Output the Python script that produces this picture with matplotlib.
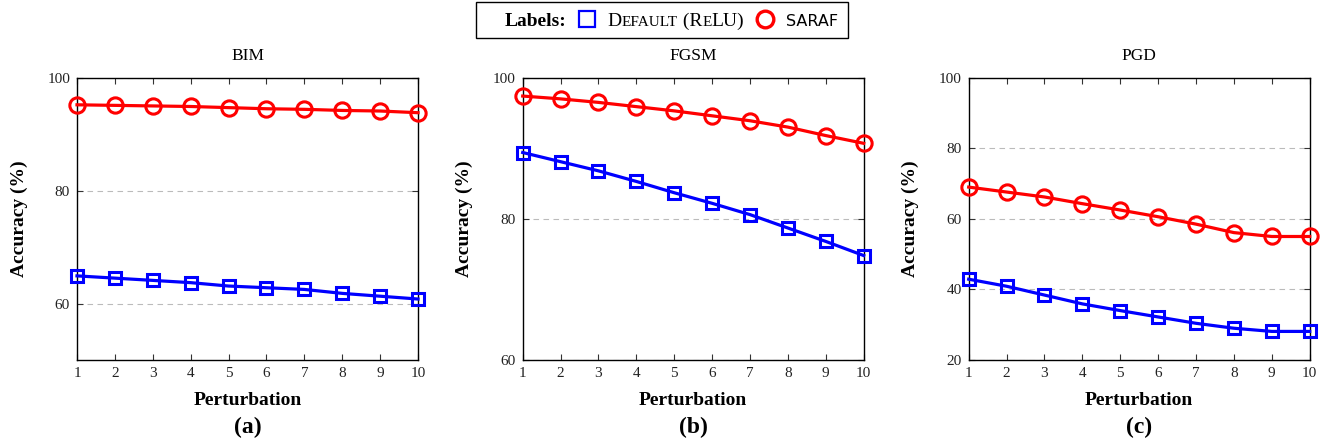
import numpy as np
import matplotlib.pyplot as plt
from matplotlib.lines import Line2D
from matplotlib.patches import Rectangle
from matplotlib.offsetbox import TextArea, DrawingArea, HPacker, AnchoredOffsetbox

plt.rcParams['font.family'] = ['Liberation Serif', 'DejaVu Serif']

#Data
perturbation = [1, 2, 3, 4, 5, 6, 7, 8, 9, 10]
titles = ['BIM', 'FGSM', 'PGD']
panel_tags = ['(a)', '(b)', '(c)']

bim_saraf = [95.2, 95.1, 95.0, 94.9, 94.7, 94.5, 94.4, 94.2, 94.1, 93.8]
bim_default = [64.9, 64.5, 64.1, 63.7, 63.1, 62.8, 62.5, 61.8, 61.3, 60.8]
fgsm_saraf = [97.4, 97.0, 96.5, 95.9, 95.3, 94.6, 93.9, 93.0, 91.8, 90.7]
fgsm_default = [89.4, 88.1, 86.8, 85.3, 83.7, 82.2, 80.6, 78.7, 76.8, 74.8]
pgd_saraf = [69.0, 67.6, 66.2, 64.3, 62.5, 60.6, 58.5, 56.1, 55.0, 55.0]
pgd_default = [42.9, 40.9, 38.4, 35.9, 34.0, 32.2, 30.4, 29.0, 28.1, 28.1]

saraf = [bim_saraf, fgsm_saraf, pgd_saraf]
default = [bim_default, fgsm_default, pgd_default]
ylims = [(50, 100), (60, 100), (20, 100)]
yticks = [[60, 80, 100], [60, 80, 100], [20, 40, 60, 80, 100]]

W, H = 1326, 444
fig = plt.figure(figsize=(W / 100, H / 100), dpi=100)

lefts = [77, 522.7, 968.7]
ax_w = 341
ax_top, ax_bot = 77.7, 360

for i in range(3):
    ax = fig.add_axes([lefts[i] / W, 1 - ax_bot / H, ax_w / W, (ax_bot - ax_top) / H])
    ax.plot(perturbation, default[i], color='blue', lw=2.3, marker='s', ms=9,
            mfc='none', mew=2.2, clip_on=False, zorder=3)
    ax.plot(perturbation, saraf[i], color='red', lw=2.3, marker='o', ms=11,
            mfc='none', mew=2.2, clip_on=False, zorder=3)
    ax.set_xlim(1, 10)
    ax.set_ylim(*ylims[i])
    ax.set_xticks(perturbation)
    ax.set_yticks(yticks[i])
    ax.yaxis.grid(True, ls=(0, (5, 4)), color='#bbbbbb', lw=0.8)
    ax.set_axisbelow(True)
    ax.tick_params(direction='in', top=True, right=True, length=4, width=0.8,
                   labelsize=11, colors='#333333', labelcolor='#222222', pad=5)
    for s in ax.spines.values():
        s.set_linewidth(1.0)
    ax.set_title(titles[i], fontsize=12.5, pad=13)
    ax.set_xlabel('Perturbation', fontsize=14, fontweight='bold', labelpad=9)
    ax.set_ylabel('Accuracy (%)', fontsize=14, fontweight='bold', labelpad=14)
    fig.text((lefts[i] + ax_w / 2) / W, 1 - 427 / H, panel_tags[i], fontsize=17,
             fontweight='bold', ha='center', va='center')

#Legend box along the top
fig.add_artist(Rectangle((476 / W, 1 - 38 / H), (848 - 476) / W, 36 / H,
                         transform=fig.transFigure, fill=False, ec='black', lw=1.0))

def marker_area(marker, color, ms):
    da = DrawingArea(16, 12, 0, 0)
    da.add_artist(Line2D([8], [5], marker=marker, ms=ms, mfc='none', mec=color,
                         mew=1.6 if marker == 's' else 2.4))
    return da

big, small = 14, 11
small_caps = HPacker(children=[
    TextArea('D', textprops=dict(fontsize=big)),
    TextArea('EFAULT', textprops=dict(fontsize=small)),
    TextArea(' (R', textprops=dict(fontsize=big)),
    TextArea('E', textprops=dict(fontsize=small)),
    TextArea('LU)', textprops=dict(fontsize=big)),
], align='baseline', pad=0, sep=0)

pack = HPacker(children=[
    TextArea('Labels:', textprops=dict(fontsize=big, fontweight='bold')),
    marker_area('s', 'blue', 11),
    small_caps,
    marker_area('o', 'red', 12),
    TextArea('SARAF', textprops=dict(fontsize=11.5, family='DejaVu Sans')),
], align='baseline', pad=0, sep=7)

ab = AnchoredOffsetbox(loc='center right', child=pack, frameon=False, pad=0, borderpad=0,
                       bbox_to_anchor=(838 / W, 1 - 20 / H), bbox_transform=fig.transFigure)
fig.add_artist(ab)

fig.savefig('out.png', dpi=100)
